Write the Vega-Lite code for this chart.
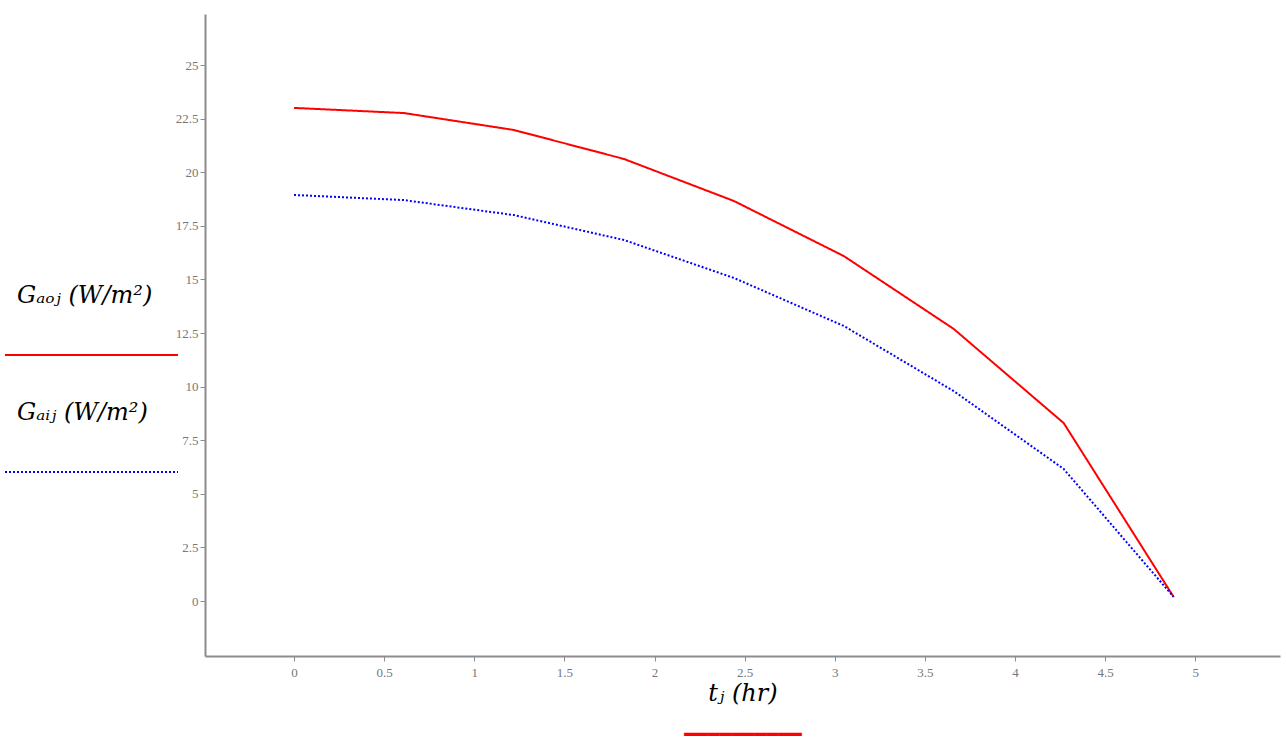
{
  "$schema": "https://vega.github.io/schema/vega-lite/v6.json",
  "width": 1075,
  "height": 642,
  "autosize": "none",
  "padding": {"left": 205, "top": 14, "right": 6, "bottom": 88},
  "background": "#ffffff",
  "config": {"view": {"stroke": null}},
  "data": {"values": [
    {"t": 0, "G": 23.0, "series": "Gₐₒⱼ  (W/m²)"},
    {"t": 0.61, "G": 22.76, "series": "Gₐₒⱼ  (W/m²)"},
    {"t": 1.22, "G": 21.97, "series": "Gₐₒⱼ  (W/m²)"},
    {"t": 1.83, "G": 20.62, "series": "Gₐₒⱼ  (W/m²)"},
    {"t": 2.44, "G": 18.66, "series": "Gₐₒⱼ  (W/m²)"},
    {"t": 3.05, "G": 16.09, "series": "Gₐₒⱼ  (W/m²)"},
    {"t": 3.66, "G": 12.69, "series": "Gₐₒⱼ  (W/m²)"},
    {"t": 4.27, "G": 8.3, "series": "Gₐₒⱼ  (W/m²)"},
    {"t": 4.88, "G": 0.19, "series": "Gₐₒⱼ  (W/m²)"},
    {"t": 0, "G": 18.94, "series": "Gₐᵢⱼ  (W/m²)"},
    {"t": 0.61, "G": 18.7, "series": "Gₐᵢⱼ  (W/m²)"},
    {"t": 1.22, "G": 18.0, "series": "Gₐᵢⱼ  (W/m²)"},
    {"t": 1.83, "G": 16.84, "series": "Gₐᵢⱼ  (W/m²)"},
    {"t": 2.44, "G": 15.07, "series": "Gₐᵢⱼ  (W/m²)"},
    {"t": 3.05, "G": 12.83, "series": "Gₐᵢⱼ  (W/m²)"},
    {"t": 3.66, "G": 9.79, "series": "Gₐᵢⱼ  (W/m²)"},
    {"t": 4.27, "G": 6.16, "series": "Gₐᵢⱼ  (W/m²)"},
    {"t": 4.88, "G": 0.19, "series": "Gₐᵢⱼ  (W/m²)"}
  ]},
  "resolve": {"axis": {"x": "independent"}},
  "layer": [
    {
      "mark": {"type": "line", "strokeWidth": 2},
      "encoding": {
        "x": {
          "field": "t", "type": "quantitative",
          "scale": {"domain": [-0.494, 5.47], "nice": false, "zero": false},
          "axis": {
            "orient": "bottom",
            "values": [0, 0.5, 1, 1.5, 2, 2.5, 3, 3.5, 4, 4.5, 5],
            "format": ".3~g", "grid": false,
            "labelFont": "Liberation Serif", "labelFontSize": 13, "labelColor": "#777777",
            "domainColor": "#8c8c8c", "domainWidth": 2, "tickColor": "#8c8c8c", "tickSize": 5, "labelPadding": 5,
            "title": "tⱼ  (hr)", "titleFont": "DejaVu Serif", "titleFontSize": 24, "titleFontWeight": "normal",
            "titleFontStyle": "italic", "titleColor": "#000000", "titlePadding": 2
          }
        },
        "y": {
          "field": "G", "type": "quantitative",
          "scale": {"domain": [-2.565, 27.38], "nice": false, "zero": false},
          "axis": {
            "values": [0, 2.5, 5, 7.5, 10, 12.5, 15, 17.5, 20, 22.5, 25],
            "format": ".3~g", "grid": false,
            "labelFont": "Liberation Serif", "labelFontSize": 13, "labelColor": "#777777",
            "domainColor": "#8c8c8c", "domainWidth": 2, "tickColor": "#8c8c8c", "tickSize": 5, "labelPadding": 2,
            "title": null
          }
        },
        "color": {
          "field": "series", "type": "nominal",
          "scale": {"domain": ["Gₐₒⱼ  (W/m²)", "Gₐᵢⱼ  (W/m²)"], "range": ["#ff0000", "#0000ff"]},
          "legend": {
            "orient": "none", "legendX": -212, "legendY": 270, "title": null,
            "symbolType": "M 0 59 L 173 59", "symbolSize": 4, "symbolStrokeWidth": 2,
            "labelFont": "DejaVu Serif", "labelFontSize": 24, "labelFontStyle": "italic", "labelColor": "#000000", "labelOffset": 0,
            "labelLimit": 400, "rowPadding": 42
          }
        },
        "strokeDash": {
          "field": "series", "type": "nominal",
          "scale": {"domain": ["Gₐₒⱼ  (W/m²)", "Gₐᵢⱼ  (W/m²)"], "range": [[1, 0], [2, 2]]},
          "legend": {
            "orient": "none", "legendX": -212, "legendY": 270, "title": null,
            "symbolType": "M 0 59 L 173 59", "symbolSize": 4, "symbolStrokeWidth": 2,
            "labelFont": "DejaVu Serif", "labelFontSize": 24, "labelFontStyle": "italic", "labelColor": "#000000", "labelOffset": 0,
            "labelLimit": 400, "rowPadding": 42
          }
        }
      }
    },
    {
      "mark": {"type": "point", "opacity": 0},
      "encoding": {
        "x": {
          "field": "t", "type": "quantitative",
          "axis": {
            "orient": "bottom", "offset": 69, "labels": false, "ticks": false, "domain": false, "grid": false,
            "title": "━━━━━━━━━━", "titleFont": "DejaVu Sans Mono", "titleFontSize": 19.5, "titleFontWeight": "normal",
            "titleColor": "#ff0000", "titlePadding": 0
          }
        },
        "y": {"field": "G", "type": "quantitative"}
      }
    }
  ]
}
